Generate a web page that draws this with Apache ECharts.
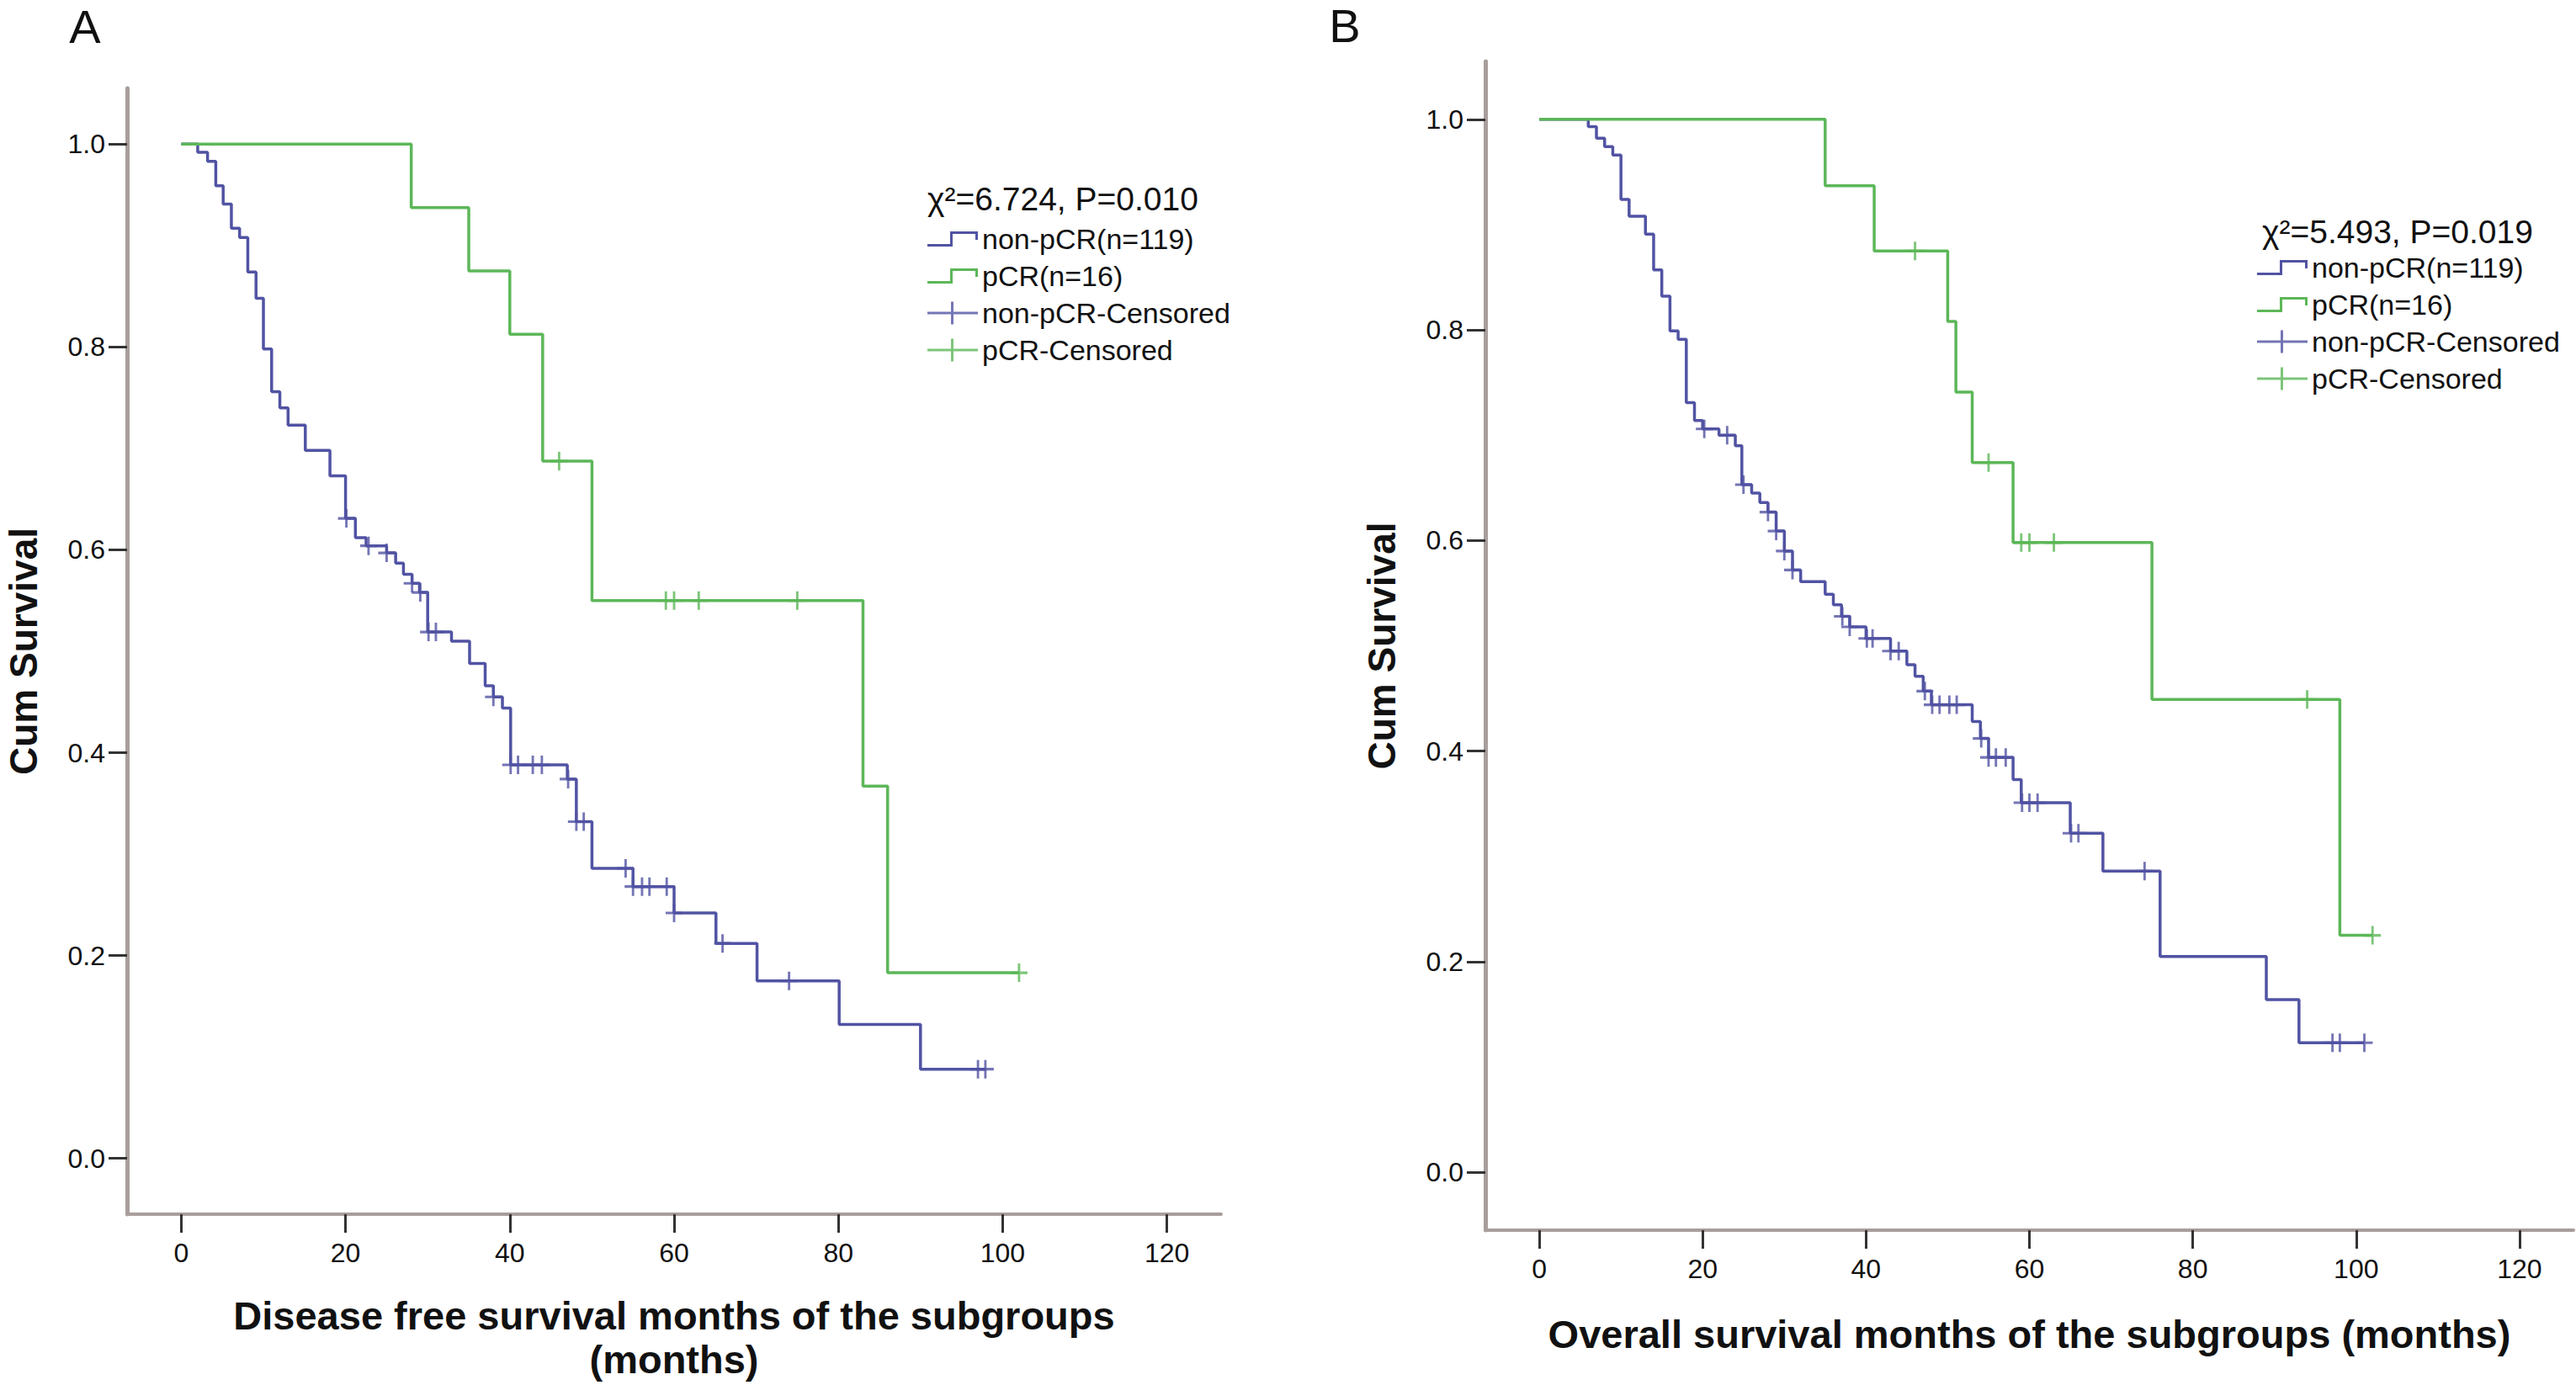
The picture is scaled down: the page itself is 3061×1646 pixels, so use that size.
<!DOCTYPE html>
<html><head><meta charset="utf-8">
<script src="https://cdn.jsdelivr.net/npm/echarts@6/dist/echarts.min.js"></script>
<style>html,body{margin:0;padding:0;background:#fff}#c{width:3061px;height:1646px}</style>
</head><body><div id="c"></div>
<script>
// ---- tick labels ----
const xTicks = [0, 20, 40, 60, 80, 100, 120];
const yTicks = [0, 0.2, 0.4, 0.6, 0.8, 1.0];

// ---- Panel A: disease free survival ----
const dfsNonTime = [0,2,3.2,4.2,5.1,6.1,7.1,8.1,9.1,10,11,12,13,15.1,18.1,20,21.2,22.5,25,26.1,27.05,28.1,29,30,32.9,35.1,37,38,39.1,40.1,47,48.1,50,55,60,65.1,70.1,80.1,90];
const dfsNonSurv = [1,0.992,0.983,0.959,0.941,0.917,0.908,0.874,0.848,0.798,0.756,0.740,0.723,0.698,0.673,0.631,0.612,0.604,0.597,0.587,0.576,0.567,0.558,0.519,0.510,0.488,0.466,0.455,0.444,0.388,0.374,0.332,0.286,0.268,0.242,0.212,0.175,0.132,0.088];
const dfsNonCens = [20.1,22.8,25,28.1,29.1,30.1,31,38,40.1,41,42.8,43.9,47.1,48.1,49,54.1,55,56.1,57,59.1,60,65.9,74,97,97.9];
const dfsPcrTime = [0,28,35,40,44,50,83,86];
const dfsPcrSurv = [1,0.9375,0.875,0.8125,0.6875,0.55,0.367,0.183];
const dfsPcrCens = [46,59,60,63,75,102];

// ---- Panel B: overall survival ----
const osNonTime = [0,6,7,8,9,10,11,13,14,15,16,17,18,19,20,22,24,24.8,26,27,28,29,30,31,32,35,36,37,38,40,43,45,46,47,48,53,54,55,58,59,65,69,76,89,93];
const osNonSurv = [1,0.993,0.982,0.974,0.966,0.924,0.908,0.891,0.857,0.832,0.799,0.791,0.731,0.714,0.706,0.700,0.690,0.653,0.645,0.636,0.627,0.609,0.590,0.572,0.561,0.549,0.539,0.528,0.518,0.507,0.495,0.482,0.471,0.457,0.444,0.428,0.412,0.394,0.373,0.351,0.322,0.286,0.205,0.164,0.123];
const osNonCens = [20.2,23,25,28,29,30,31,37.1,38,40.1,40.8,43,44,47.2,48.1,49,50.2,51.1,54.1,55,55.9,57.1,59.1,60,61,65.1,66,74.1,97.1,98,101];
const osPcrTime = [0,35,41,50,51,53,58,75,98];
const osPcrSurv = [1,0.937,0.875,0.808,0.741,0.674,0.598,0.449,0.225];
const osPcrCens = [46,55,59,60,63,94,102];

const seriesNames = ['non-pCR(n=119)', 'pCR(n=16)', 'non-pCR-Censored', 'pCR-Censored'];
const statTexts = ['\u03c7\u00b2=6.724, P=0.010', '\u03c7\u00b2=5.493, P=0.019'];
const xTitles = ['Disease free survival months of the subgroups\n(months)', 'Overall survival months of the subgroups (months)'];

const BLUE = '#5153a3';
const GREEN = '#5cb758';
const FONT = 'Liberation Sans, Arial, Helvetica, sans-serif';

function curve(times, surv, cens) {
  const pts = times.map((t, i) => [t, surv[i]]);
  const end = Math.max(times[times.length - 1], cens.length ? Math.max.apply(null, cens) : 0);
  pts.push([end, surv[surv.length - 1]]);
  return pts;
}
function censPts(times, surv, cens) {
  return cens.map(c => {
    let s = surv[0];
    for (let i = 0; i < times.length; i++) if (times[i] <= c + 1e-9) s = surv[i];
    return [c, s];
  });
}

const stepIcon = 'path://M0,15 L27,15 L27,0 L60,0 L60,10 L57,10 L57,3 L30,3 L30,18 L0,18 Z';
const censIcon = 'path://M0,12 L28,12 L28,0 L31,0 L31,12 L60,12 L60,15 L31,15 L31,27 L28,27 L28,15 L0,15 Z';
const plusSym = 'path://M9,0 L12,0 L12,9 L21,9 L21,12 L12,12 L12,21 L9,21 L9,12 L0,12 L0,9 L9,9 Z';

function xAxisCfg(idx) {
  return {
    type: 'value', gridIndex: idx, min: -6.6, max: 126.6,
    name: xTitles[idx], nameLocation: 'middle', nameGap: idx === 0 ? 94 : 97,
    nameTextStyle: { fontSize: 47, fontWeight: 'bold', color: '#111', fontFamily: FONT, lineHeight: 52 },
    axisLine: { show: true, onZero: false, lineStyle: { color: '#a89e9c', width: 4 } },
    axisTick: { show: true, customValues: xTicks, length: 22, lineStyle: { color: '#333', width: 3 } },
    axisLabel: { customValues: xTicks, fontSize: 32, color: '#111', fontFamily: FONT, margin: 30 },
    splitLine: { show: false }
  };
}
function yAxisCfg(idx) {
  return {
    type: 'value', gridIndex: idx, min: -0.055, max: 1.055,
    name: 'Cum Survival', nameLocation: 'middle', nameGap: 100,
    nameTextStyle: { fontSize: 46, fontWeight: 'bold', color: '#111', fontFamily: FONT },
    axisLine: { show: true, onZero: false, lineStyle: { color: '#a89e9c', width: 5 } },
    axisTick: { show: true, customValues: yTicks, length: 22, lineStyle: { color: '#333', width: 3 } },
    axisLabel: { customValues: yTicks, fontSize: 32, color: '#111', fontFamily: FONT, margin: 26,
      formatter: v => Number(v).toFixed(1) },
    splitLine: { show: false }
  };
}
function panelSeries(idx, nT, nS, nC, pT, pS, pC) {
  return [
    { name: seriesNames[0], type: 'line', step: 'end', xAxisIndex: idx, yAxisIndex: idx,
      data: curve(nT, nS, nC), showSymbol: false, color: BLUE,
      lineStyle: { color: BLUE, width: 3.5 }, z: 2 },
    { name: seriesNames[1], type: 'line', step: 'end', xAxisIndex: idx, yAxisIndex: idx,
      data: curve(pT, pS, pC), showSymbol: false, color: GREEN,
      lineStyle: { color: GREEN, width: 3.5 }, z: 3 },
    { name: seriesNames[2], type: 'scatter', xAxisIndex: idx, yAxisIndex: idx,
      data: censPts(nT, nS, nC), symbol: plusSym, symbolSize: [20, 22], color: BLUE,
      itemStyle: { color: BLUE }, z: 4 },
    { name: seriesNames[3], type: 'scatter', xAxisIndex: idx, yAxisIndex: idx,
      data: censPts(pT, pS, pC), symbol: plusSym, symbolSize: [20, 22], color: GREEN,
      itemStyle: { color: GREEN }, z: 5 }
  ];
}
function legendCfg(left, top) {
  return {
    orient: 'vertical', left: left, top: top, itemWidth: 60, itemHeight: 27, itemGap: 0,
    selectedMode: false, itemStyle: { borderWidth: 0 },
    textStyle: { fontSize: 34, color: '#111', fontFamily: FONT, lineHeight: 44 },
    data: [
      { name: seriesNames[0], icon: stepIcon },
      { name: seriesNames[1], icon: stepIcon },
      { name: seriesNames[2], icon: censIcon },
      { name: seriesNames[3], icon: censIcon }
    ]
  };
}

const chart = echarts.init(document.getElementById('c'), null, { renderer: 'svg' });
chart.setOption({
  backgroundColor: '#ffffff',
  animation: false,
  grid: [
    { left: 151, top: 105, width: 1300, height: 1344 },
    { left: 1765, top: 73, width: 1293, height: 1389 }
  ],
  xAxis: [xAxisCfg(0), xAxisCfg(1)],
  yAxis: [yAxisCfg(0), yAxisCfg(1)],
  legend: [legendCfg(1097, 257), legendCfg(2677, 291)],
  graphic: [
    { type: 'text', x: 101, y: 31, style: { text: 'A', fontSize: 56, fontFamily: FONT, fill: '#111', align: 'center', verticalAlign: 'middle' } },
    { type: 'text', x: 1598, y: 30, style: { text: 'B', fontSize: 56, fontFamily: FONT, fill: '#111', align: 'center', verticalAlign: 'middle' } },
    { type: 'text', x: 1102, y: 236, style: { text: statTexts[0], fontSize: 39, fontFamily: FONT, fill: '#111', align: 'left', verticalAlign: 'middle' } },
    { type: 'text', x: 2688, y: 275, style: { text: statTexts[1], fontSize: 39, fontFamily: FONT, fill: '#111', align: 'left', verticalAlign: 'middle' } }
  ],
  series: [].concat(
    panelSeries(0, dfsNonTime, dfsNonSurv, dfsNonCens, dfsPcrTime, dfsPcrSurv, dfsPcrCens),
    panelSeries(1, osNonTime, osNonSurv, osNonCens, osPcrTime, osPcrSurv, osPcrCens)
  )
});
</script></body></html>
